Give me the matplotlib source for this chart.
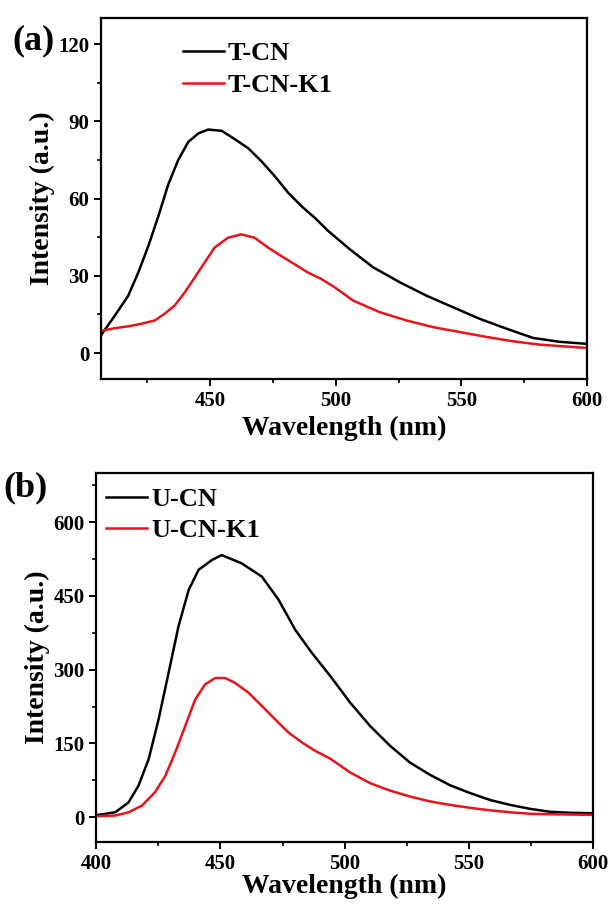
import matplotlib
matplotlib.use("Agg")
import matplotlib.pyplot as plt
from matplotlib.ticker import MultipleLocator

plt.rcParams['font.family'] = ['Liberation Serif', 'DejaVu Serif']
plt.rcParams['font.weight'] = 'bold'

# Panel (a)
wl_tcn = [406.6, 412.1, 417.4, 421.4, 425.4, 429.4, 433.3, 437.3, 441.3, 445.3, 449.2, 454.6,
          459.9, 465.2, 470.5, 475.8, 481.1, 486.4, 491.7, 497.0, 505.6, 514.9, 525.5, 536.1,
          546.7, 557.3, 567.9, 578.5, 589.1, 600]
tcn = [7.0, 14.6, 22.3, 31.3, 41.6, 53.2, 65.4, 75.0, 82.0, 85.3, 86.8, 86.3,
       83.0, 79.5, 74.4, 68.6, 62.2, 57.0, 52.5, 47.4, 40.3, 33.3, 27.5, 22.3,
       17.8, 13.3, 9.5, 5.9, 4.4, 3.6]
wl_tcnk1 = [406.6, 412.1, 417.4, 422.7, 428.0, 431.9, 435.9, 439.9, 443.9, 447.8, 451.8, 457.1,
            462.4, 467.7, 473.0, 478.3, 483.6, 488.9, 494.2, 499.5, 506.9, 517.5, 528.1, 538.7,
            549.3, 559.9, 570.5, 581.1, 600]
tcnk1 = [8.6, 9.7, 10.4, 11.4, 12.7, 15.3, 18.5, 23.6, 29.4, 35.2, 41.0, 44.8,
         46.1, 44.8, 41.0, 37.7, 34.5, 31.3, 28.8, 25.6, 20.4, 15.9, 12.7, 10.1,
         8.2, 6.3, 4.6, 3.3, 2.0]

# Panel (b)
wl_ucn = [400, 407.7, 413.0, 417.0, 421.1, 425.1, 429.1, 433.1, 437.2, 441.2, 446.6, 450.5,
          458.6, 466.7, 473.4, 480.1, 486.8, 494.2, 502.2, 510.3, 518.3, 526.3, 534.4, 542.4,
          550.5, 558.5, 566.6, 574.6, 582.6, 590.7, 600]
ucn = [4, 10, 30, 64, 118, 199, 293, 388, 462, 503, 523, 533,
       516, 489, 442, 381, 334, 287, 233, 185, 145, 111, 86, 65,
       49, 35, 25, 17, 11, 9, 8]
wl_ucnk1 = [400, 407.7, 413.0, 418.4, 423.7, 427.8, 431.8, 435.8, 439.8, 443.8, 447.9, 451.9,
            455.9, 461.3, 466.7, 472.0, 477.4, 482.8, 488.1, 494.2, 502.2, 510.3, 518.3, 526.3,
            534.4, 542.4, 550.5, 558.5, 566.6, 574.6, 582.6, 600]
ucnk1 = [2, 3.3, 10, 23.5, 51, 84, 132, 185, 239, 270, 283, 283,
         273, 253, 226, 199, 172, 152, 135, 119, 91, 69, 54, 42,
         32, 25, 19, 14, 10, 7, 6, 4.7]

RED = '#e8141c'

fig = plt.figure(figsize=(6.09, 9.13), dpi=100)
ax1 = fig.add_axes([0.166, 0.585, 0.798, 0.395])
ax2 = fig.add_axes([0.158, 0.078, 0.816, 0.404])

def style(ax):
    for s in ax.spines.values():
        s.set_linewidth(1.6)
    ax.tick_params(axis='both', which='major', direction='out', length=5, width=1.4,
                   labelsize=15, top=False, right=False)
    ax.tick_params(axis='both', which='minor', direction='out', length=3, width=1.2,
                   top=False, right=False)
    for lab in ax.get_xticklabels() + ax.get_yticklabels():
        lab.set_fontweight('bold')
    ax.set_ylabel('Intensity (a.u.)', fontsize=20, fontweight='bold', labelpad=2)

LEG = {'family': 'Liberation Serif', 'weight': 'bold', 'size': 19}

ax1.plot(wl_tcn, tcn, color='black', lw=1.8, label='T-CN')
ax1.plot(wl_tcnk1, tcnk1, color=RED, lw=1.8, label='T-CN-K1')
ax1.set_xlim(406.6, 600)
ax1.set_ylim(-10, 130)
ax1.xaxis.set_major_locator(MultipleLocator(50))
ax1.xaxis.set_minor_locator(MultipleLocator(25))
ax1.yaxis.set_major_locator(MultipleLocator(30))
ax1.yaxis.set_minor_locator(MultipleLocator(15))
ax1.set_xlabel('Wavelength (nm)', fontsize=20, fontweight='bold', labelpad=4)
style(ax1)
ax1.legend(loc='upper left', bbox_to_anchor=(0.12, 1.0), frameon=False, prop=LEG,
           handlelength=1.55, handletextpad=0.15, labelspacing=0.3)
fig.text(0.02, 0.946, '(a)', fontsize=26, fontweight='bold')

ax2.plot(wl_ucn, ucn, color='black', lw=1.8, label='U-CN')
ax2.plot(wl_ucnk1, ucnk1, color=RED, lw=1.8, label='U-CN-K1')
ax2.set_xlim(400, 600)
ax2.set_ylim(-50, 700)
ax2.xaxis.set_major_locator(MultipleLocator(50))
ax2.xaxis.set_minor_locator(MultipleLocator(25))
ax2.yaxis.set_major_locator(MultipleLocator(150))
ax2.yaxis.set_minor_locator(MultipleLocator(75))
ax2.set_xlabel('Wavelength (nm)', fontsize=20, fontweight='bold', labelpad=0)
style(ax2)
ax2.legend(loc='upper left', bbox_to_anchor=(-0.028, 1.025), frameon=False, prop=LEG,
           handlelength=1.55, handletextpad=0.15, labelspacing=0.3)
fig.text(0.005, 0.456, '(b)', fontsize=26, fontweight='bold')

fig.savefig('out.png', dpi=100)
